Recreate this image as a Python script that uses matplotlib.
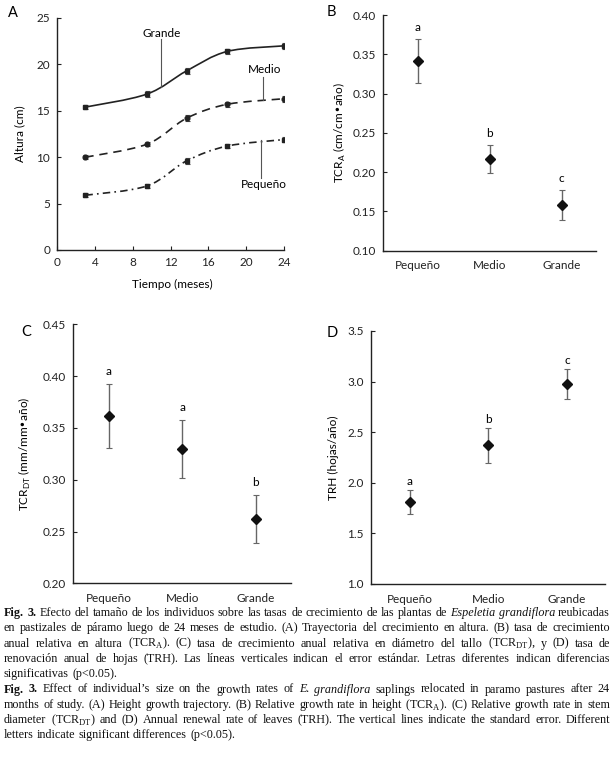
import numpy as np
import matplotlib
matplotlib.use('Agg')
import matplotlib.pyplot as plt
from matplotlib.path import Path
from matplotlib.patches import PathPatch

W, H = 616, 769
SANS = ['Lato', 'DejaVu Sans']
SERIF = ['Liberation Serif', 'DejaVu Serif']
plt.rcParams['font.family'] = SANS
plt.rcParams['font.size'] = 8.5

# --- panel A: height trajectory ---
months = [3, 9.5, 13.7, 18, 24]
alt_grande = [15.4, 16.8, 19.3, 21.4, 22.0]
alt_medio = [10.0, 11.4, 14.2, 15.7, 16.3]
alt_pequeno = [5.9, 6.9, 9.6, 11.2, 11.9]
se_grande = [0.2, 0.3, 0.3, 0.3, 0.3]
se_medio = [0.2, 0.2, 0.3, 0.3, 0.3]
se_pequeno = [0.2, 0.2, 0.3, 0.2, 0.3]

# --- panels B, C, D: size classes ---
sizes = ['Pequeño', 'Medio', 'Grande']
tcr_a = [0.341, 0.217, 0.158]
tcr_a_se = [0.028, 0.0175, 0.019]
tcr_a_let = ['a', 'b', 'c']
tcr_dt = [0.3615, 0.330, 0.262]
tcr_dt_se = [0.031, 0.028, 0.0235]
tcr_dt_let = ['a', 'a', 'b']
trh = [1.807, 2.37, 2.976]
trh_se = [0.12, 0.17, 0.145]
trh_let = ['a', 'b', 'c']

CAPTION = [
    ("**Fig.** **3.** Efecto del tamaño de los individuos sobre las tasas de crecimiento de las plantas de "
     "*Espeletia* *grandiflora* reubicadas", True),
    ("en pastizales de páramo luego de 24 meses de estudio. (A) Trayectoria del crecimiento en altura. "
     "(B) tasa de crecimiento", True),
    ("anual relativa en altura (TCR$_\\mathregular{A}$). (C) tasa de crecimiento anual relativa en diámetro "
     "del tallo (TCR$_\\mathregular{DT}$), y (D) tasa de", True),
    ("renovación anual de hojas (TRH). Las líneas verticales indican el error estándar. Letras diferentes "
     "indican diferencias", True),
    ("significativas (p<0.05).", False),
    ("**Fig.** **3.** Effect of individual’s size on the growth rates of *E.* *grandiflora* saplings "
     "relocated in paramo pastures after 24", True),
    ("months of study. (A) Height growth trajectory. (B) Relative growth rate in height "
     "(TCR$_\\mathregular{A}$). (C) Relative growth rate in stem", True),
    ("diameter (TCR$_\\mathregular{DT}$) and (D) Annual renewal rate of leaves (TRH). The vertical lines "
     "indicate the standard error. Different", True),
    ("letters indicate significant differences (p<0.05).", False),
]


def px_axes(left, top, right, bottom):
    return [left / W, 1 - bottom / H, (right - left) / W, (bottom - top) / H]


def smooth_path(xs, ys):
    # Catmull-Rom through the points, drawn as cubic Bezier segments
    pts = np.column_stack([xs, ys]).astype(float)
    p = np.vstack([pts[0], pts, pts[-1]])
    verts = [pts[0]]
    codes = [Path.MOVETO]
    for i in range(1, len(p) - 2):
        c1 = p[i] + (p[i + 1] - p[i - 1]) / 6
        c2 = p[i + 1] - (p[i + 2] - p[i]) / 6
        verts += [c1, c2, p[i + 1]]
        codes += [Path.CURVE4] * 3
    return Path(verts, codes)


def style_axes(ax):
    for s in ['top', 'right']:
        ax.spines[s].set_visible(False)
    for s in ['left', 'bottom']:
        ax.spines[s].set_linewidth(1.0)
        ax.spines[s].set_color('#222222')
    ax.tick_params(colors='#222222', labelsize=8.5, width=0.8)


fig = plt.figure(figsize=(W / 100, H / 100), dpi=100)

# ---------- A ----------
axA = fig.add_axes(px_axes(57, 18, 284, 250))
style_axes(axA)
series = [(alt_grande, se_grande, '-', 's', 2.6),
          (alt_medio, se_medio, (0, (5, 3.5)), 'o', 3.4),
          (alt_pequeno, se_pequeno, (0, (4.5, 2.5, 1, 2.5)), 's', 2.4)]
for vals, se, ls, mk, ms in series:
    axA.add_patch(PathPatch(smooth_path(months, vals), fill=False, lw=1.2,
                            linestyle=ls, edgecolor='#222222'))
    axA.errorbar(months, vals, yerr=se, fmt=mk, ms=ms, color='#222222',
                 ecolor='#444444', elinewidth=0.8, capsize=1.8, capthick=0.8)
axA.set_xlim(0, 24)
axA.set_ylim(0, 25)
axA.set_xticks(range(0, 25, 4))
axA.set_yticks(range(0, 26, 5))
axA.tick_params(direction='in', length=3, pad=5)
axA.tick_params(axis='y', pad=5)
axA.text(0.507, -0.147, 'Tiempo (meses)', transform=axA.transAxes,
         ha='center', va='center', fontsize=8.5)
axA.text(-0.163, 0.5, 'Altura (cm)', transform=axA.transAxes, rotation=90,
         ha='center', va='center', fontsize=8.5)

# labels with leader lines
axA.plot([11.0, 11.0], [22.7, 17.55], color='#555555', lw=0.8)
axA.text(11.05, 23.3, 'Grande', ha='center', va='center', fontsize=8.5)
axA.plot([21.74, 21.74], [18.67, 16.16], color='#555555', lw=0.8)
axA.text(22.0, 19.5, 'Medio', ha='center', va='center', fontsize=8.5)
axA.plot([21.57, 21.57], [11.85, 7.75], color='#555555', lw=0.8)
axA.text(21.9, 7.08, 'Pequeño', ha='center', va='center', fontsize=8.5)


def cat_panel(rect, vals, se, letters, ylim, step, fmt, ylabel, labx, let_off):
    ax = fig.add_axes(px_axes(*rect))
    style_axes(ax)
    x = np.arange(len(sizes))
    ax.errorbar(x, vals, yerr=se, fmt='none', ecolor='#666666',
                elinewidth=1.0, capsize=2.5, capthick=0.8, zorder=2)
    ax.plot(x, vals, 'D', ms=5, color='#111111', zorder=3)
    for xi, v, e, lt in zip(x, vals, se, letters):
        ax.annotate(lt, (xi, v + e), xytext=(0, let_off), textcoords='offset points',
                    ha='center', va='center', fontsize=8.5)
    ax.set_xlim(-0.49, 2.48)
    ax.set_ylim(*ylim)
    ax.set_yticks(np.arange(ylim[0], ylim[1] + step / 2, step))
    ax.yaxis.set_major_formatter(matplotlib.ticker.FormatStrFormatter(fmt))
    ax.set_xticks(x)
    ax.set_xticklabels(sizes)
    ax.tick_params(axis='x', length=0, pad=7)
    ax.tick_params(axis='y', direction='in', length=3, pad=5)
    ax.text(labx, 0.5, ylabel, transform=ax.transAxes, rotation=90,
            ha='center', va='center', fontsize=8.5)
    return ax


cat_panel((382.7, 15, 596, 250.7), tcr_a, tcr_a_se, tcr_a_let, (0.10, 0.40), 0.05,
          '%.2f', 'TCR$_\\mathregular{A}$ (cm/cm•año)', -0.2, 8.6)
cat_panel((72.7, 324.3, 291, 583.3), tcr_dt, tcr_dt_se, tcr_dt_let, (0.20, 0.45), 0.05,
          '%.2f', 'TCR$_\\mathregular{DT}$ (mm/mm•año)', -0.218, 8.6)
cat_panel((371, 331, 605, 584), trh, trh_se, trh_let, (1.0, 3.5), 0.5,
          '%.1f', 'TRH (hojas/año)', -0.162, 6.2)

for lab, (px, py) in zip('ABCD', [(13, 13), (331, 12), (26, 332), (332, 333)]):
    fig.text(px / W, 1 - py / H, lab, fontsize=10.5, ha='center', va='center')

# ---------- caption (justified, word by word) ----------
LEFT, RIGHT = 4, 610
BASE0, LSTEP = 616, 15.3
renderer = fig.canvas.get_renderer()


def make_words(line, y, size):
    out = []
    for w in line.split(' '):
        weight, style = 'normal', 'normal'
        if w.startswith('**'):
            w, weight = w.strip('*'), 'bold'
        elif w.startswith('*'):
            w, style = w.strip('*'), 'italic'
        out.append(fig.text(0, y, w, family=SERIF, fontsize=size, fontweight=weight,
                            fontstyle=style, ha='left', va='baseline', color='#111111'))
    return out


# pick the font size so the longest line fits with normal spacing
probe = 10.0
natural = []
for line, justify in CAPTION:
    ws = make_words(line, 0, probe)
    wsum = sum(t.get_window_extent(renderer).width for t in ws)
    natural.append(wsum + (len(ws) - 1) * probe * 0.25 * 100 / 72)
    for t in ws:
        t.remove()
cap_size = probe * (RIGHT - LEFT - 2) / max(natural)
space = cap_size * 0.25 * 100 / 72

for li, (line, justify) in enumerate(CAPTION):
    y = 1 - (BASE0 + li * LSTEP) / H
    words = make_words(line, y, cap_size)
    widths = [t.get_window_extent(renderer).width for t in words]
    gap = (RIGHT - LEFT - sum(widths)) / (len(words) - 1) if justify else space
    xpos = LEFT
    for t, wd in zip(words, widths):
        t.set_x(xpos / W)
        xpos += wd + gap

fig.savefig('out.png', dpi=100)
